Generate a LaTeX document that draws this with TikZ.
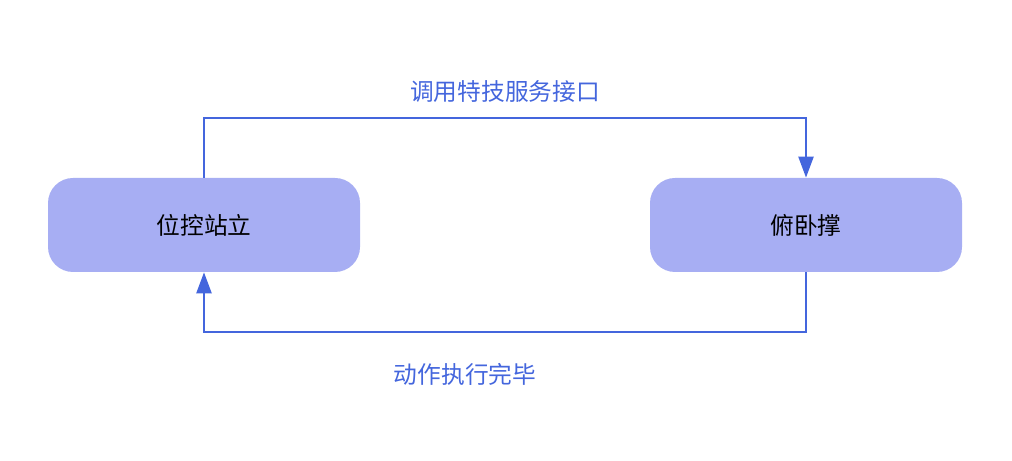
\documentclass[tikz,border=0pt]{standalone}
\usepackage{fontspec}
\setmainfont{Noto Sans CJK SC}
\usetikzlibrary{arrows.meta}
\definecolor{boxfill}{HTML}{A7AEF3}
\definecolor{linkblue}{HTML}{4466DD}
\tikzset{
  state/.style={draw=none, fill=boxfill, rounded corners=0.5cm, minimum width=6.24cm, minimum height=1.88cm, font=\fontsize{13.5}{16}\selectfont},
  link/.style={linkblue, line width=1.3pt, -{Triangle[length=0.42cm,width=0.3cm]}},
  tag/.style={text=linkblue, font=\fontsize{13.5}{16}\selectfont}
}
\begin{document}
\begin{tikzpicture}
  \useasboundingbox (0,0) rectangle (20.24,9.22);
  \node [state] at (4.08, 4.72) (stand) {位控站立};
  \node [state] at (16.12, 4.72) (pushup) {俯卧撑};
  \coordinate (TL) at (4.08, 6.86);
  \coordinate (TR) at (16.12, 6.86);
  \coordinate (BL) at (4.08, 2.58);
  \coordinate (BR) at (16.12, 2.58);
  \draw [link] (stand.north) -- (TL) -- (TR) -- (pushup.north);
  \draw [link] (pushup.south) -- (BR) -- (BL) -- (stand.south);
  \node [tag] at (10.1, 7.38) (call) {调用特技服务接口};
  \node [tag] at (9.3, 1.74) (done) {动作执行完毕};
\end{tikzpicture}
\end{document}
